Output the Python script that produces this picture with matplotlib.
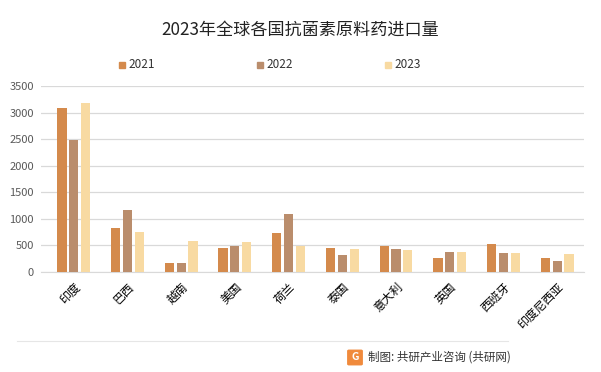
import numpy as np
import matplotlib.pyplot as plt
from matplotlib.patches import FancyBboxPatch

plt.rcParams['font.family'] = ['Noto Sans CJK SC', 'DejaVu Sans']

countries = ['印度', '巴西', '越南', '美国', '荷兰', '泰国', '意大利', '英国', '西班牙', '印度尼西亚']
years = ['2021', '2022', '2023']
v2021 = [3090, 830, 175, 455, 735, 455, 495, 270, 530, 270]
v2022 = [2480, 1170, 175, 480, 1095, 325, 440, 380, 365, 210]
v2023 = [3175, 755, 590, 570, 480, 440, 420, 380, 365, 345]
colors = ['#D48A4C', '#BA8D6C', '#F8DAA2']

fig = plt.figure(figsize=(6.01, 3.72), dpi=100)
ax = fig.add_axes([41/601, 1 - 272/372, (584 - 41)/601, (272 - 86)/372])

x = np.arange(len(countries))
w = 0.22
for i, (vals, yr) in enumerate(zip([v2021, v2022, v2023], years)):
    ax.bar(x + (i - 1) * w, vals, width=w * 0.78, color=colors[i], label=yr, zorder=3)

ax.set_ylim(0, 3500)
ax.set_xlim(-0.61, len(countries) - 0.5)
ax.set_yticks(range(0, 3501, 500))
ax.yaxis.grid(True, color='#D9D9D9', linewidth=0.9, zorder=0)
for s in ['top', 'right', 'left']:
    ax.spines[s].set_visible(False)
ax.spines['bottom'].set_color('#D9D9D9')
ax.tick_params(axis='y', length=0, labelsize=8, labelcolor='#595959', pad=5)
ax.tick_params(axis='x', length=0, labelsize=8.5, pad=6)
ax.set_xticks(x)
ax.set_xticklabels(countries, rotation=45, ha='right', rotation_mode='anchor')

fig.text(0.5, 1 - 30/372, '2023年全球各国抗菌素原料药进口量', ha='center', va='center',
         fontsize=12.3, color='#222222')

# legend
for i, (yr, lx) in enumerate(zip(years, [122, 260, 388])):
    fig.patches.append(plt.Rectangle((lx/601 - 3/601, 1 - 68/372), 6/601, 6/372,
                                     transform=fig.transFigure, color=colors[i]))
    fig.text((lx + 6)/601, 1 - 65/372, yr, ha='left', va='center', fontsize=8.5, color='#333333')

# footer line and source
fig.add_artist(plt.Line2D([17/601, 508/601], [1 - 341/372, 1 - 341/372],
                          transform=fig.transFigure, color='#E6E6E6', linewidth=0.8))
fig.patches.append(FancyBboxPatch((349/601, 1 - 364/372), 12/601, 13/372,
                                  boxstyle='round,pad=0.002', transform=fig.transFigure,
                                  color='#F08A3C'))
fig.text(351.5/601, 1 - 357/372, 'G', ha='left', va='center', fontsize=7.5,
         color='white', fontweight='bold')
fig.text(368/601, 1 - 357/372, '制图: 共研产业咨询 (共研网)', ha='left', va='center',
         fontsize=8.3, color='#333333')

fig.savefig('out.png', dpi=100)
